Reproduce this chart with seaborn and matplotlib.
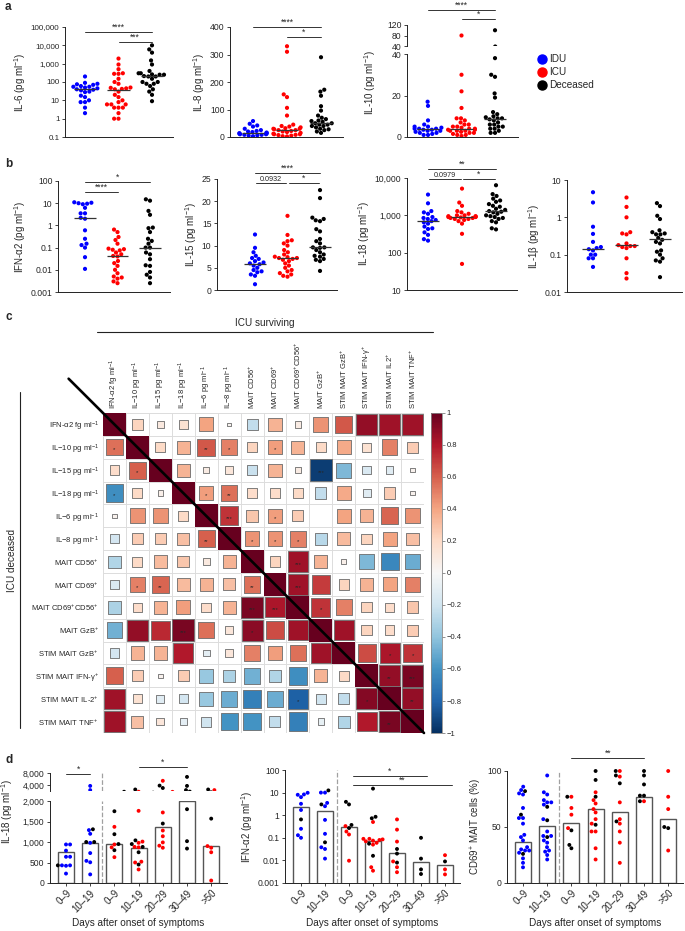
import warnings
import numpy as np
import pandas as pd
import matplotlib.pyplot as plt
import matplotlib.transforms as mtransforms
from matplotlib.lines import Line2D
from matplotlib.ticker import FixedLocator, NullLocator
import seaborn as sns

warnings.filterwarnings("ignore")
sns.set_style("ticks")
plt.rcParams["font.family"] = ["Liberation Sans", "DejaVu Sans"]
plt.rcParams["mathtext.fontset"] = "custom"
plt.rcParams["mathtext.rm"] = "Liberation Sans"
plt.rcParams["mathtext.default"] = "regular"
plt.rcParams["axes.linewidth"] = 0.7

groups = ["IDU", "ICU", "Deceased"]
pal = {"IDU": "#0000ff", "ICU": "#ff0000", "Deceased": "#000000"}

# ---------------- panel a / b values ----------------
il6 = {
    "IDU": [200, 90, 80, 75, 70, 60, 55, 55, 50, 45, 40, 38, 35, 30, 28, 18, 15, 10, 8, 8, 4, 2],
    "ICU": [1900, 900, 500, 300, 280, 280, 150, 100, 80, 50, 48, 45, 42, 40, 30, 20, 15, 10, 8, 6,
            6, 6, 4, 4, 4, 2, 1, 1],
    "Deceased": [10000, 6000, 4000, 1500, 900, 400, 300, 300, 260, 250, 250, 210, 200, 200, 150,
                 100, 100, 80, 80, 60, 40, 30, 20, 9],
}
il8 = {
    "IDU": [58, 48, 42, 38, 30, 25, 22, 20, 18, 16, 15, 14, 12, 12, 10, 10, 8, 8, 6, 5, 3],
    "ICU": [330, 310, 155, 145, 106, 78, 45, 40, 38, 35, 32, 30, 30, 28, 25, 25, 22, 20, 18, 15,
            12, 10, 10, 8, 7, 5, 3, 2],
    "Deceased": [290, 172, 165, 150, 112, 96, 78, 70, 65, 60, 58, 55, 50, 50, 45, 45, 40, 40, 35,
                 30, 28, 25, 20, 15],
}
il10 = {
    "IDU": [17, 15, 8, 6, 5, 5, 4.5, 4, 4, 4, 3.5, 3.5, 3, 3, 2.5, 2, 2, 1.5, 1, 1],
    "ICU": [80, 30, 22, 14, 9, 9, 8, 7, 6, 6, 5, 5, 4.5, 4, 4, 3.5, 3.5, 3, 3, 3, 2.5, 2, 2, 1.5,
            1, 1, 0.5],
    "Deceased": [100, 38, 30, 29, 21, 19, 12, 11, 10, 9.5, 9, 9, 8.5, 8, 7, 6, 6, 5, 5, 4, 4, 3,
                 2, 2],
}
ifna = {
    "IDU": [11, 10.5, 10, 9.5, 9, 6.2, 3.5, 3.5, 2.2, 2.0, 0.6, 0.25, 0.15, 0.13, 0.1, 0.037, 0.011],
    "ICU": [0.65, 0.5, 0.3, 0.22, 0.15, 0.09, 0.085, 0.08, 0.075, 0.06, 0.05, 0.042, 0.04, 0.025,
            0.02, 0.015, 0.01, 0.007, 0.005, 0.0045, 0.004, 0.003, 0.0025],
    "Deceased": [15, 13, 4.5, 3, 0.8, 0.75, 0.5, 0.25, 0.2, 0.15, 0.1, 0.1, 0.06, 0.05, 0.03,
                 0.016, 0.015, 0.008, 0.006, 0.0045, 0.0025],
}
il15 = {
    "IDU": [12.5, 9.5, 8.5, 7.7, 7.2, 7.0, 6.5, 6.2, 6.0, 5.8, 5.5, 5.0, 4.5, 4.2, 4.0, 3.5, 3.2, 1.3],
    "ICU": [16.7, 12.4, 11.2, 11, 10.5, 10, 9, 8.5, 8, 7.5, 7.4, 7.2, 7.2, 7.0, 6.8, 6.5, 6, 5.5,
            5, 4.5, 4.2, 3.8, 3.5, 3.2, 3.0],
    "Deceased": [22.5, 20.7, 16.3, 16, 15.7, 15.5, 13.7, 13.2, 11.5, 11, 10.5, 9.6, 9.6, 9.5, 9,
                 8.5, 8, 7.7, 7.5, 7, 6.8, 6.5, 4.3],
}
il18 = {
    "IDU": [3600, 2100, 1300, 1200, 1100, 900, 850, 800, 750, 700, 650, 600, 500, 450, 430, 350,
            300, 230, 210],
    "ICU": [5200, 2200, 1800, 1300, 1200, 1100, 1000, 1000, 950, 950, 920, 900, 900, 880, 850, 850,
            800, 800, 750, 700, 600, 320, 50],
    "Deceased": [6400, 3700, 3300, 2800, 2500, 2300, 2000, 1800, 1700, 1500, 1400, 1300, 1250,
                 1200, 1100, 1000, 950, 900, 850, 800, 700, 650, 450, 420],
}
il1b = {
    "IDU": [4.7, 2.5, 0.56, 0.36, 0.22, 0.16, 0.15, 0.14, 0.13, 0.1, 0.1, 0.08, 0.08, 0.047],
    "ICU": [3.4, 1.9, 1.0, 0.4, 0.37, 0.35, 0.2, 0.18, 0.17, 0.17, 0.16, 0.15, 0.08, 0.032, 0.023],
    "Deceased": [2.4, 2.0, 1.1, 0.9, 0.45, 0.4, 0.37, 0.35, 0.35, 0.28, 0.25, 0.22, 0.2, 0.13,
                 0.12, 0.1, 0.08, 0.07, 0.065, 0.025],
}

# ---------------- panel c values ----------------
row_labels = ["IFN-α2 fg ml$^{-1}$", "IL−10 pg ml$^{-1}$", "IL−15 pg ml$^{-1}$",
              "IL−18 pg ml$^{-1}$", "IL−6 pg ml$^{-1}$", "IL−8 pg ml$^{-1}$", "MAIT CD56$^{+}$",
              "MAIT CD69$^{+}$", "MAIT CD69$^{+}$CD56$^{+}$", "MAIT GzB$^{+}$",
              "STIM MAIT GzB$^{+}$", "STIM MAIT IFN-γ$^{+}$", "STIM MAIT IL-2$^{+}$",
              "STIM MAIT TNF$^{+}$"]
col_labels = row_labels[:12] + ["STIM MAIT IL2$^{+}$", "STIM MAIT TNF$^{+}$"]
# upper triangle: ICU surviving, lower triangle: ICU deceased
corr_r = [
    [1.00, 0.22, 0.10, 0.15, 0.40, 0.03, -0.25, 0.35, 0.08, 0.45, 0.62, 0.88, 0.85, 0.85],
    [0.55, 1.00, 0.20, 0.35, 0.62, 0.50, 0.22, 0.42, 0.35, 0.20, 0.38, 0.15, 0.50, 0.25],
    [0.18, 0.60, 1.00, 0.35, 0.08, 0.12, -0.22, 0.35, 0.08, -0.95, -0.45, -0.15, -0.12, 0.04],
    [-0.62, 0.20, 0.06, 1.00, 0.42, 0.55, 0.18, 0.18, 0.20, -0.25, 0.38, -0.12, 0.25, 0.04],
    [0.04, 0.45, 0.45, 0.20, 1.00, 0.72, 0.28, 0.42, 0.25, 0.00, 0.40, 0.35, 0.58, 0.45],
    [-0.18, 0.25, 0.25, 0.30, 0.60, 1.00, 0.45, 0.45, 0.50, -0.28, 0.32, 0.22, 0.40, 0.30],
    [-0.30, 0.20, 0.32, 0.28, 0.10, 0.35, 1.00, 0.22, 0.85, 0.35, 0.06, -0.45, -0.65, -0.50],
    [-0.15, 0.50, 0.58, 0.32, 0.35, 0.30, 0.55, 1.00, 0.85, 0.70, 0.22, 0.35, 0.40, 0.50],
    [-0.32, 0.18, 0.35, 0.42, 0.18, 0.35, 0.95, 0.82, 1.00, 0.72, 0.50, 0.22, 0.18, 0.28],
    [-0.48, 0.88, 0.75, 0.95, 0.55, 0.12, 0.90, 0.65, 0.85, 1.00, 0.85, 0.22, 0.18, 0.25],
    [-0.18, 0.35, 0.35, 0.80, -0.10, 0.12, 0.50, 0.42, 0.55, 0.85, 1.00, 0.65, 0.82, 0.72],
    [0.60, 0.25, 0.04, 0.25, -0.38, -0.32, -0.48, -0.30, -0.62, 0.35, 0.20, 1.00, 0.88, 0.95],
    [0.85, 0.15, -0.12, -0.18, -0.38, -0.50, -0.68, -0.50, -0.82, -0.20, -0.25, 0.92, 1.00, 0.88],
    [0.85, 0.30, 0.12, -0.10, -0.20, -0.60, -0.60, -0.25, -0.68, -0.08, -0.30, 0.80, 0.95, 1.00],
]
corr_stars = {
    (1, 0): "*", (1, 4): "**", (1, 5): "*", (1, 7): "*",
    (2, 1): "*", (2, 9): "***",
    (3, 0): "*", (3, 4): "*", (3, 5): "**",
    (4, 5): "***", (4, 7): "*",
    (5, 4): "**", (5, 6): "*", (5, 7): "*", (5, 8): "*",
    (6, 8): "***",
    (7, 1): "*", (7, 2): "**", (7, 6): "**", (7, 8): "***",
    (8, 6): "***", (8, 7): "***", (8, 9): "*",
    (9, 3): "***", (9, 6): "*",
    (10, 12): "*", (10, 13): "*",
    (11, 12): "**", (11, 13): "***",
    (12, 8): "*", (12, 11): "*", (12, 13): "**",
    (13, 12): "**",
}
cbar_ticks = [-1, -0.8, -0.6, -0.4, -0.2, 0, 0.2, 0.4, 0.6, 0.8, 1]
cbar_labels = ["−1", "−0.8", "−0.6", "−0.4", "−0.2", "0", "0.2", "0.4", "0.6", "0.8", "1"]

# ---------------- panel d values ----------------
d_keys = ["IDU 0–9", "IDU 10–19", "ICU 0–9", "ICU 10–19", "ICU 20–29", "ICU 30–49", "ICU >50"]
d_ticks = ["0–9", "10–19", "0–9", "10–19", "20–29", "30–49", ">50"]

d_il18_bars = [760, 985, 945, 865, 1355, 2000, 905]
d_il18 = {
    "IDU 0–9": {"IDU": [940, 940, 790, 640, 640, 430, 430, 420, 230], "Deceased": [430]},
    "IDU 10–19": {"IDU": [3700, 2300, 1290, 1200, 980, 730, 540, 505, 210],
                  "Deceased": [1310, 1000, 1000]},
    "ICU 0–9": {"ICU": [1370, 940, 870, 630], "Deceased": [1750, 1190, 950, 800]},
    "ICU 10–19": {"ICU": [1760, 1010, 980, 880, 870, 520, 500, 330],
                  "Deceased": [2500, 1040, 950, 880, 750, 450]},
    "ICU 20–29": {"ICU": [5400, 1720, 1280, 1140, 990, 910, 860], "Deceased": [3800, 3000, 1450]},
    "ICU 30–49": {"Deceased": [6700, 3700, 2300, 1800, 1020, 840]},
    "ICU >50": {"ICU": [2300, 900, 860, 750, 60], "Deceased": [2500, 1570]},
}
d_ifn_bars = [2.3, 1.6, 0.3, 0.075, 0.021, 0.0085, 0.0065]
d_ifn = {
    "IDU 0–9": {"IDU": [9.8, 8.3, 8.0, 6.3, 3.2, 1.7, 0.25, 0.13, 0.10], "Deceased": [0.65]},
    "IDU 10–19": {"IDU": [10, 10, 3.5, 2.5, 0.62, 0.15, 0.038, 0.032, 0.012],
                  "Deceased": [12.5, 3.0, 0.063]},
    "ICU 0–9": {"ICU": [0.33, 0.19, 0.14, 0.0097], "Deceased": [3.9, 3.0, 0.37, 0.27]},
    "ICU 10–19": {"ICU": [0.5, 0.09, 0.09, 0.085, 0.08, 0.075, 0.07, 0.06, 0.05, 0.005, 0.0035],
                  "Deceased": [15, 0.85, 0.73, 0.055, 0.016]},
    "ICU 20–29": {"ICU": [0.65, 0.23, 0.068, 0.009, 0.005, 0.003], "Deceased": [0.032, 0.02, 0.008]},
    "ICU 30–49": {"Deceased": [0.1, 0.012, 0.004, 0.0025]},
    "ICU >50": {"ICU": [0.017, 0.004, 0.0024], "Deceased": [0.009]},
}
d_cd69_bars = [37, 51, 54, 66, 63, 77, 57]
d_cd69 = {
    "IDU 0–9": {"IDU": [86, 83, 80, 79, 67, 58, 58, 53, 43, 41, 38, 32, 30, 29, 29, 27, 22, 18, 14],
                "Deceased": [82, 61, 26]},
    "IDU 10–19": {"IDU": [96, 81, 79, 74, 72, 72, 70, 57, 46, 42, 42, 38, 36, 32, 29, 28, 25, 21],
                  "Deceased": [68, 56, 41]},
    "ICU 0–9": {"ICU": [77, 67, 61, 49], "Deceased": [77, 47, 34, 31]},
    "ICU 10–19": {"ICU": [81, 74, 71, 66, 63, 57, 53, 46, 46, 31, 21],
                  "Deceased": [100, 92, 77, 52]},
    "ICU 20–29": {"ICU": [100, 95, 72, 57, 53, 46, 36, 18], "Deceased": [100, 96, 89, 55]},
    "ICU 30–49": {"ICU": [73], "Deceased": [100, 96, 88, 78, 78, 73]},
    "ICU >50": {"ICU": [100, 77, 66, 29], "Deceased": [50, 49]},
}

# ---------------- drawing ----------------
W, H = 685, 931
fig = plt.figure(figsize=(W / 100, H / 100), dpi=100)


def px_axes(x0, y0, x1, y1):
    return fig.add_axes([x0 / W, 1 - y1 / H, (x1 - x0) / W, (y1 - y0) / H])


def prism(ax, bottom=True, xticks=False):
    sns.despine(ax=ax)
    for s in ["left", "bottom"]:
        ax.spines[s].set_color("#222222")
        ax.spines[s].set_linewidth(0.7)
    ax.tick_params(axis="y", labelsize=6.2, length=2.5, width=0.6, pad=1.5, color="#222222")
    if xticks:
        ax.tick_params(axis="x", labelsize=7, length=2.5, width=0.6, pad=1, color="#222222")
    else:
        ax.tick_params(axis="x", bottom=False, labelbottom=False)
    if not bottom:
        ax.spines["bottom"].set_visible(False)
        ax.tick_params(axis="x", bottom=False, labelbottom=False)
    ax.set_xlabel("")
    ax.set_ylabel("")


def set_y(ax, lim, ticks, labels):
    ax.set_ylim(*lim)
    ax.yaxis.set_major_locator(FixedLocator(ticks))
    ax.yaxis.set_minor_locator(NullLocator())
    ax.set_yticklabels(labels)


def sig(ax, i, j, ypx, label, shrink=0.0, fs=6.2):
    p = ax.get_position()
    yf = ((1 - ypx / H) - p.y0) / p.height
    tr = mtransforms.blended_transform_factory(ax.transData, ax.transAxes)
    ax.plot([i + shrink, j - shrink], [yf, yf], color="#333333", lw=0.7, transform=tr,
            clip_on=False)
    ax.text((i + j) / 2, yf, label, transform=tr, ha="center", va="bottom", fontsize=fs)


def dot_axes(box, c0, sp, d, log, lim, ticks, labels, ylabel, bottom=True, med=True):
    ax = px_axes(*box)
    if log:
        ax.set_yscale("log")
    df = pd.DataFrame([(g, v) for g in groups for v in d[g]], columns=["group", "value"])
    sns.swarmplot(data=df, x="group", y="value", hue="group", order=groups, hue_order=groups,
                  palette=pal, size=3.0, linewidth=0, legend=False, ax=ax, zorder=3)
    if med:
        for i, g in enumerate(groups):
            ax.hlines(np.median(d[g]), i - 0.33, i + 0.33, color="#333333", lw=0.9, zorder=4)
    ax.set_xlim((box[0] - c0) / sp, (box[2] - c0) / sp)
    set_y(ax, lim, ticks, labels)
    prism(ax, bottom)
    ax.set_ylabel(ylabel, fontsize=7, labelpad=2)
    return ax


log_lab = {0.001: "0.001", 0.01: "0.01", 0.1: "0.1", 1: "1", 10: "10", 100: "100",
           1000: "1,000", 10000: "10,000", 100000: "100,000"}


def logt(vals):
    return vals, [log_lab[v] for v in vals]


# panel a
t, l = logt([0.1, 1, 10, 100, 1000, 10000, 100000])
ax = dot_axes((65, 27, 173, 137), 85, 33.5, il6, True, (0.1, 100000), t, l, "IL-6 (pg ml$^{-1}$)")
ax.tick_params(axis="y", labelsize=5.8)
sig(ax, 0, 2, 32, "****")
sig(ax, 1, 2, 42, "***")

ax = dot_axes((230, 27, 343, 137), 253, 34, il8, False, (0, 400), [0, 100, 200, 300, 400],
              ["0", "100", "200", "300", "400"], "IL-8 (pg ml$^{-1}$)")
sig(ax, 0, 2, 27, "****")
sig(ax, 1, 2, 37, "*")

ax = dot_axes((407, 54, 518, 137), 428, 33.5, il10, False, (0, 40), [0, 20, 40],
              ["0", "20", "40"], "IL-10 (pg ml$^{-1}$)")
ax.yaxis.set_label_coords(-0.26, 0.66)
ax = dot_axes((407, 25, 518, 46), 428, 33.5, il10, False, (40, 120), [40, 80, 120],
              ["40", "80", "120"], "", bottom=False, med=False)
sig(ax, 0, 2, 10, "****")
sig(ax, 1, 2, 19, "*")

handles = [Line2D([], [], ls="", marker="o", ms=6.5, color=pal[g]) for g in groups]
fig.legend(handles, groups, loc="upper left", bbox_to_anchor=(532 / W, 1 - 50 / H),
           frameon=False, fontsize=7.2, handletextpad=0.15, labelspacing=0.3,
           borderaxespad=0, handlelength=1.2)

# panel b
t, l = logt([0.001, 0.01, 0.1, 1, 10, 100])
ax = dot_axes((58, 181, 170, 292), 85, 32.5, ifna, True, (0.001, 100), t, l,
              "IFN-α2 (pg ml$^{-1}$)")
sig(ax, 0, 2, 182, "*")
sig(ax, 0, 1, 192, "****")

ax = dot_axes((217, 179, 337, 290), 255, 32.5, il15, False, (0, 25), [0, 5, 10, 15, 20, 25],
              ["0", "5", "10", "15", "20", "25"], "IL-15 (pg ml$^{-1}$)")
sig(ax, 0, 2, 173, "****")
sig(ax, 0, 1, 183, "0.0932", shrink=0.04, fs=5.2)
sig(ax, 1, 2, 183, "*", shrink=0.04)

t, l = logt([10, 100, 1000, 10000])
ax = dot_axes((407, 178, 517, 290), 428, 34, il18, True, (10, 10000), t, l,
              "IL-18 (pg ml$^{-1}$)")
sig(ax, 0, 2, 169, "**")
sig(ax, 0, 1, 179, "0.0979", shrink=0.04, fs=5.2)
sig(ax, 1, 2, 179, "*", shrink=0.04)

t, l = logt([0.01, 0.1, 1, 10])
ax = dot_axes((567, 180, 682, 292), 593, 33.5, il1b, True, (0.01, 10), t, l,
              "IL-1β (pg ml$^{-1}$)")

# panel c: correlation matrix
n = len(row_labels)
vals = np.array(corr_r)
rr, cc = np.meshgrid(np.arange(n), np.arange(n), indexing="ij")
axc = px_axes(103, 413, 424, 733)
cell_pt = (424 - 103) / n * 0.72
diag = (rr == cc).ravel()
sizes = np.abs(vals).ravel() * cell_pt ** 2 * np.where(diag, 1.0, 0.93)
sc = axc.scatter(cc.ravel(), rr.ravel(), s=sizes, c=vals.ravel(), cmap="RdBu_r", vmin=-1, vmax=1,
                 marker="s", edgecolors="#6b6b6b", linewidths=np.where(diag, 0, 0.6), zorder=3)
axc.set_xlim(-0.5, n - 0.5)
axc.set_ylim(n - 0.5, -0.5)
axc.xaxis.tick_top()
axc.set_xticks(np.arange(n))
axc.set_xticklabels(col_labels, rotation=90)
axc.set_yticks(np.arange(n))
axc.set_yticklabels(row_labels)
axc.set_xticks(np.arange(-0.5, n), minor=True)
axc.set_yticks(np.arange(-0.5, n), minor=True)
axc.tick_params(which="both", length=0, labelsize=5.5, pad=3)
axc.grid(which="minor", color="#dcdcdc", lw=0.7)
axc.grid(which="major", visible=False)
for s in axc.spines.values():
    s.set_visible(False)
axc.plot([-2, n - 0.5], [-2, n - 0.5], color="black", lw=1.9, clip_on=False, zorder=5)
for (i, j), s in corr_stars.items():
    axc.text(j, i + 0.12, s, ha="center", va="center", fontsize=4.2, zorder=6)

cax = px_axes(431, 413, 442, 733)
cb = fig.colorbar(sc, cax=cax)
cb.set_ticks(cbar_ticks)
cb.set_ticklabels(cbar_labels)
cb.ax.tick_params(labelsize=5.5, length=2, width=0.5, pad=1.5, color="#666666")
cb.outline.set_edgecolor("#888888")
cb.outline.set_linewidth(0.6)

fig.text(265 / W, 1 - 323 / H, "ICU surviving", ha="center", va="center", fontsize=7.2)
fig.add_artist(Line2D([97 / W, 433 / W], [1 - 332 / H] * 2, color="#222222", lw=0.8))
fig.text(12 / W, 1 - 560 / H, "ICU deceased", ha="center", va="center", rotation=90,
         fontsize=7.2)
fig.add_artist(Line2D([20 / W] * 2, [1 - 392 / H, 1 - 728 / H], color="#222222", lw=0.8))


# panel d
def bar_axes(box, c0, sp, heights, pts, log, lim, ticks, labels, ylabel, bars=True, bottom=True):
    ax = px_axes(*box)
    if log:
        ax.set_yscale("log")
    if bars:
        sns.barplot(x=d_keys, y=heights, order=d_keys, color="white", saturation=1,
                    edgecolor="#555555", linewidth=1.0, width=0.66, errorbar=None, ax=ax,
                    zorder=1)
    df = pd.DataFrame([(k, g, v) for k in d_keys for g, vs in pts[k].items() for v in vs],
                      columns=["cat", "group", "value"])
    sns.swarmplot(data=df, x="cat", y="value", hue="group", order=d_keys, palette=pal, size=2.8,
                  linewidth=0, legend=False, ax=ax, zorder=3)
    ax.axvline(1.5, ls="--", color="#a0a0a0", lw=0.9, zorder=0)
    ax.set_xlim((box[0] - c0) / sp, (box[2] - c0) / sp)
    set_y(ax, lim, ticks, labels)
    prism(ax, bottom, xticks=bottom)
    if bottom:
        ax.set_xticks(range(len(d_keys)))
        ax.set_xticklabels(d_ticks, rotation=45, ha="right", rotation_mode="anchor")
        ax.set_xlabel("Days after onset of symptoms", fontsize=7.2, labelpad=3)
    ax.set_ylabel(ylabel, fontsize=7, labelpad=2)
    return ax


ax = bar_axes((50, 801, 227, 883), 66, 24.2, d_il18_bars, d_il18, False, (0, 2000),
              [0, 500, 1000, 1500, 2000], ["0", "500", "1,000", "1,500", "2,000"],
              "IL-18 (pg ml$^{-1}$)")
ax.yaxis.set_label_coords(-0.2, 0.87)
ax = bar_axes((50, 773, 227, 791), 66, 24.2, d_il18_bars, d_il18, False, (2000, 8000),
              [4000, 8000], ["4,000", "8,000"], "", bars=False, bottom=False)
sig(ax, 0, 1, 774, "*")
sig(ax, 3, 5, 767, "*")

t, l = logt([0.001, 0.01, 0.1, 1, 10, 100])
ax = bar_axes((285, 770, 460, 883), 301, 24, d_ifn_bars, d_ifn, True, (0.001, 100), t, l,
              "IFN-α2 (pg ml$^{-1}$)")
sig(ax, 2.15, 5.25, 776, "*")
sig(ax, 2.15, 6.3, 785, "**")

ax = bar_axes((507, 771, 683, 883), 523, 24.2, d_cd69_bars, d_cd69, False, (0, 100),
              [0, 50, 100], ["0", "50", "100"], "CD69$^{+}$ MAIT cells (%)")
for coll in ax.collections:
    coll.set_clip_on(False)
sig(ax, 2, 5, 758, "**")

for txt, x, y in [("a", 5, 7), ("b", 5, 164), ("c", 5, 317), ("d", 5, 760)]:
    fig.text(x / W, 1 - y / H, txt, fontweight="bold", fontsize=8.5, va="center", ha="left")

fig.savefig("out.png", dpi=100)
